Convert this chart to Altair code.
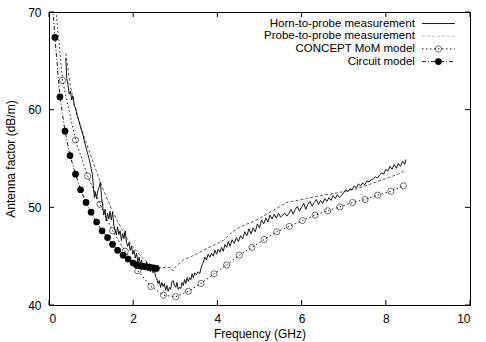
import altair as alt
import pandas as pd

# ---------------- data ----------------
horn_x = [0.40, 0.42, 0.45, 0.48, 0.51, 0.54, 0.57, 0.60, 0.63, 0.66, 0.70, 0.75, 0.80, 0.85, 0.90, 0.95,
          1.00, 1.03, 1.06, 1.08, 1.10, 1.13, 1.16, 1.19, 1.22, 1.25, 1.28, 1.30, 1.33, 1.36, 1.39, 1.42,
          1.45, 1.48, 1.51, 1.54, 1.57, 1.60, 1.63, 1.66, 1.69, 1.72, 1.75, 1.78, 1.81, 1.84, 1.87, 1.90,
          1.93, 1.96, 1.99, 2.02, 2.05, 2.08, 2.11, 2.14, 2.17, 2.20, 2.23, 2.26, 2.29, 2.32, 2.35, 2.38,
          2.41, 2.44, 2.47, 2.50, 2.53, 2.56, 2.59, 2.62, 2.65, 2.68, 2.71, 2.74, 2.77, 2.80, 2.83, 2.86,
          2.89, 2.92, 2.95, 2.98, 3.01, 3.04, 3.07, 3.10, 3.13, 3.16, 3.19, 3.22, 3.25, 3.28, 3.31, 3.34,
          3.37, 3.40, 3.43, 3.46, 3.50, 3.54, 3.58, 3.62, 3.66, 3.70, 3.74, 3.78, 3.82, 3.86, 3.90, 3.94,
          3.98, 4.02, 4.06, 4.10, 4.14, 4.18, 4.22, 4.26, 4.30, 4.35, 4.40, 4.45, 4.50, 4.55, 4.60, 4.65,
          4.70, 4.75, 4.80, 4.85, 4.90, 4.95, 5.00, 5.05, 5.10, 5.15, 5.20, 5.25, 5.30, 5.35, 5.40, 5.45,
          5.50, 5.60, 5.65, 5.70, 5.75, 5.80, 5.85, 5.90, 5.95, 6.00, 6.05, 6.10, 6.15, 6.20, 6.25, 6.30,
          6.35, 6.40, 6.45, 6.50, 6.55, 6.60, 6.65, 6.70, 6.75, 6.80, 6.85, 6.90, 6.95, 7.00, 7.05, 7.10,
          7.15, 7.20, 7.25, 7.30, 7.35, 7.40, 7.45, 7.50, 7.55, 7.60, 7.65, 7.70, 7.75, 7.80, 7.85, 7.90,
          7.95, 8.00, 8.05, 8.10, 8.15, 8.20, 8.25, 8.30, 8.35, 8.40, 8.45, 8.48]
horn_y = [65.3, 63.2, 62.6, 61.6, 61.9, 61.0, 61.4, 60.4, 60.2, 59.5, 59.0, 58.2, 57.5, 56.6, 55.8, 55.0,
          54.0, 53.4, 51.8, 51.0, 51.6, 50.9, 51.7, 52.0, 52.6, 51.0, 50.0, 49.2, 49.8, 48.6, 49.4, 48.8,
          49.6, 48.7, 49.5, 48.2, 47.6, 47.2, 48.0, 47.2, 47.6, 46.6, 47.3, 46.8, 47.6, 46.4, 46.0, 46.4,
          45.6, 46.0, 45.2, 45.6, 44.8, 45.3, 44.4, 44.9, 44.2, 44.6, 43.8, 44.3, 43.6, 44.4, 43.5, 44.2,
          43.4, 44.0, 43.3, 43.8, 42.9, 42.7, 42.2, 42.5, 41.8, 42.3, 41.9, 42.2, 41.5, 42.0, 41.4, 41.8,
          41.6, 42.4, 42.5, 42.0, 41.8, 42.3, 41.6, 41.8, 41.7, 42.3, 42.0, 42.6, 42.2, 42.8, 42.4, 42.8,
          42.6, 43.2, 42.8, 43.3, 43.1, 43.4, 43.2, 43.9, 44.3, 44.9, 44.6, 45.2, 44.9, 45.3, 45.0, 45.6,
          45.2, 45.7, 45.4, 45.9, 45.5, 46.2, 45.9, 46.5, 46.0, 46.7, 46.3, 46.9, 46.5, 47.1, 46.8, 47.5,
          47.1, 47.8, 47.3, 47.9, 47.5, 48.3, 47.9, 48.7, 48.3, 48.9, 48.5, 49.2, 48.8, 49.3, 48.9, 49.4,
          49.0, 49.4, 49.1, 49.4, 49.8, 49.3, 49.8, 50.1, 49.6, 50.0, 50.4, 49.8, 50.3, 50.6, 50.1, 50.5,
          50.8, 50.3, 50.7, 50.4, 50.9, 50.6, 51.0, 50.7, 51.2, 50.9, 51.3, 51.0, 51.2, 51.5, 51.8, 51.6,
          51.9, 51.8, 52.2, 52.0, 52.4, 52.2, 52.5, 52.3, 52.7, 52.6, 52.8, 52.9, 53.1, 53.0, 53.3, 53.5,
          53.4, 53.9, 53.7, 54.2, 53.9, 54.4, 54.0, 54.5, 54.2, 54.7, 54.4, 54.9]

probe_x = [0.40, 0.50, 0.60, 0.70, 0.80, 0.90, 1.00, 1.10, 1.20, 1.30, 1.40, 1.50, 1.60, 1.70, 1.80, 1.90,
           2.00, 2.10, 2.20, 2.30, 2.40, 2.50, 2.60, 2.70, 2.80, 2.90, 2.95, 3.00, 3.19, 3.50, 3.75, 4.14,
           4.30, 4.54, 4.93, 5.33, 5.65, 6.12, 6.44, 6.75, 7.31, 7.78, 8.10, 8.30, 8.46]
probe_y = [65.8, 62.6, 60.6, 59.0, 57.7, 56.4, 55.2, 54.0, 52.8, 51.7, 50.7, 49.7, 48.8, 48.0, 47.2, 46.5,
           45.9, 45.4, 44.9, 44.5, 44.2, 43.9, 43.8, 43.8, 43.9, 43.8, 43.5, 43.9, 44.6, 45.2, 45.8, 46.6,
           47.3, 48.0, 48.7, 49.7, 50.5, 50.9, 51.2, 51.4, 51.9, 52.6, 53.1, 53.4, 53.8]

mom_x = [0.02, 0.32, 0.63, 0.92, 1.21, 1.51, 1.81, 2.11, 2.42, 2.72, 3.01, 3.31, 3.61, 3.92, 4.22, 4.52,
         4.82, 5.11, 5.41, 5.71, 6.02, 6.32, 6.62, 6.91, 7.21, 7.51, 7.81, 8.12, 8.42]
mom_y = [77.0, 63.0, 56.9, 53.2, 50.3, 47.6, 45.5, 43.5, 41.9, 41.0, 40.85, 41.4, 42.2, 43.2, 44.1, 45.1,
         45.9, 46.7, 47.5, 48.05, 48.65, 49.2, 49.65, 50.05, 50.5, 50.8, 51.25, 51.65, 52.2]

circ_x = [0.015, 0.14, 0.26, 0.38, 0.50, 0.63, 0.75, 0.88, 1.00, 1.13, 1.26, 1.39, 1.51, 1.63, 1.76, 1.88,
          2.00, 2.08, 2.16, 2.24, 2.32, 2.40, 2.48, 2.55]
circ_y = [75.0, 67.4, 61.3, 57.8, 55.3, 53.4, 51.8, 50.5, 49.5, 48.5, 47.6, 46.9, 46.2, 45.6, 45.1, 44.7,
          44.3, 44.1, 44.0, 43.95, 43.9, 43.85, 43.8, 43.75]

series_names = ["Horn-to-probe measurement", "Probe-to-probe measurement",
                "CONCEPT MoM model", "Circuit model"]
x_ticks = [0, 2, 4, 6, 8, 10]
y_ticks = [40, 50, 60, 70]

FONT = "Liberation Sans"
W, H = 421, 293
xs = alt.Scale(domain=[0, 10], nice=False, zero=False)
ys = alt.Scale(domain=[40, 70], nice=False, zero=False)

horn = pd.DataFrame({"f": horn_x, "af": horn_y})
probe = pd.DataFrame({"f": probe_x, "af": probe_y})
mom = pd.DataFrame({"f": mom_x, "af": mom_y})
circ = pd.DataFrame({"f": circ_x, "af": circ_y})

X = alt.X("f:Q", scale=xs,
          axis=alt.Axis(values=x_ticks, ticks=False, domain=False, grid=False, labelPadding=8,
                        title="Frequency (GHz)", titlePadding=4, format="d"))
Y = alt.Y("af:Q", scale=ys,
          axis=alt.Axis(values=y_ticks, ticks=False, domain=False, grid=False, labelPadding=8,
                        title="Antenna factor (dB/m)", titlePadding=10))

horn_l = alt.Chart(horn).mark_line(color="black", strokeWidth=0.9, clip=True).encode(x=X, y=Y)
probe_l = alt.Chart(probe).mark_line(color="#333", strokeWidth=0.8, strokeDash=[3, 2], clip=True).encode(x=X, y=Y)
mom_l = alt.Chart(mom).mark_line(color="black", strokeWidth=0.9, strokeDash=[1.5, 2.5], clip=True).encode(x=X, y=Y)
mom_p = alt.Chart(mom).mark_point(shape="circle", filled=False, color="black", size=38, strokeWidth=0.8,
                                  clip=True).encode(x=X, y=Y)
circ_l = alt.Chart(circ).mark_line(color="black", strokeWidth=0.9, strokeDash=[4, 2, 1, 2], clip=True).encode(x=X, y=Y)
circ_p = alt.Chart(circ).mark_point(shape="circle", filled=True, color="black", size=45, opacity=1,
                                    clip=True).encode(x=X, y=Y)

# inward ticks on all four sides
xt = pd.DataFrame({"t": x_ticks})
yt = pd.DataFrame({"t": y_ticks})
xb = alt.Chart(xt).mark_rule(color="black", strokeWidth=1).encode(
    x=alt.X("t:Q", scale=xs), y=alt.value(H), y2=alt.value(H - 5))
xtp = alt.Chart(xt).mark_rule(color="black", strokeWidth=1).encode(
    x=alt.X("t:Q", scale=xs), y=alt.value(0), y2=alt.value(5))
yl = alt.Chart(yt).mark_rule(color="black", strokeWidth=1).encode(
    y=alt.Y("t:Q", scale=ys), x=alt.value(0), x2=alt.value(5))
yr = alt.Chart(yt).mark_rule(color="black", strokeWidth=1).encode(
    y=alt.Y("t:Q", scale=ys), x=alt.value(W), x2=alt.value(W - 5))

# gnuplot style key (top right)
key_y = [68.82, 67.52, 66.22, 64.92]
key = pd.DataFrame({"name": series_names, "ky": key_y})
key_text = alt.Chart(key).mark_text(align="right", baseline="middle", font=FONT, fontSize=11.5,
                                    color="black").encode(
    x=alt.datum(8.69, scale=xs), y=alt.Y("ky:Q", scale=ys), text="name:N")


def key_line(i, **kw):
    d = pd.DataFrame({"a": [8.86], "b": [9.64], "ky": [key_y[i]]})
    return alt.Chart(d).mark_rule(**kw).encode(
        x=alt.X("a:Q", scale=xs), x2="b:Q", y=alt.Y("ky:Q", scale=ys))


def key_pt(i, **kw):
    d = pd.DataFrame({"a": [9.25], "ky": [key_y[i]]})
    return alt.Chart(d).mark_point(**kw).encode(x=alt.X("a:Q", scale=xs), y=alt.Y("ky:Q", scale=ys))


k0 = key_line(0, color="black", strokeWidth=0.9)
k1 = key_line(1, color="#aaa", strokeWidth=0.8, strokeDash=[3, 2])
k2 = key_line(2, color="black", strokeWidth=0.9, strokeDash=[1.5, 2.5])
k2p = key_pt(2, shape="circle", filled=False, color="black", size=38, strokeWidth=0.8)
k3 = key_line(3, color="black", strokeWidth=0.9, strokeDash=[4, 2, 1, 2])
k3p = key_pt(3, shape="circle", filled=True, color="black", size=45, opacity=1)

chart = alt.layer(
    probe_l, horn_l, mom_l, mom_p, circ_l, circ_p,
    xb, xtp, yl, yr,
    key_text, k0, k1, k2, k2p, k3, k3p,
).properties(
    width=W, height=H,
    autosize=alt.AutoSizeParams(type="none"),
    padding={"left": 49, "top": 12, "right": 16, "bottom": 37},
    background="white",
).configure_view(
    stroke="black", strokeWidth=1
).configure_axis(
    labelFont=FONT, titleFont=FONT, labelFontSize=12, titleFontSize=12,
    labelColor="black", titleColor="black", titleFontWeight="normal",
)

chart.save("out.html", embed_options={"renderer": "svg", "actions": False})
